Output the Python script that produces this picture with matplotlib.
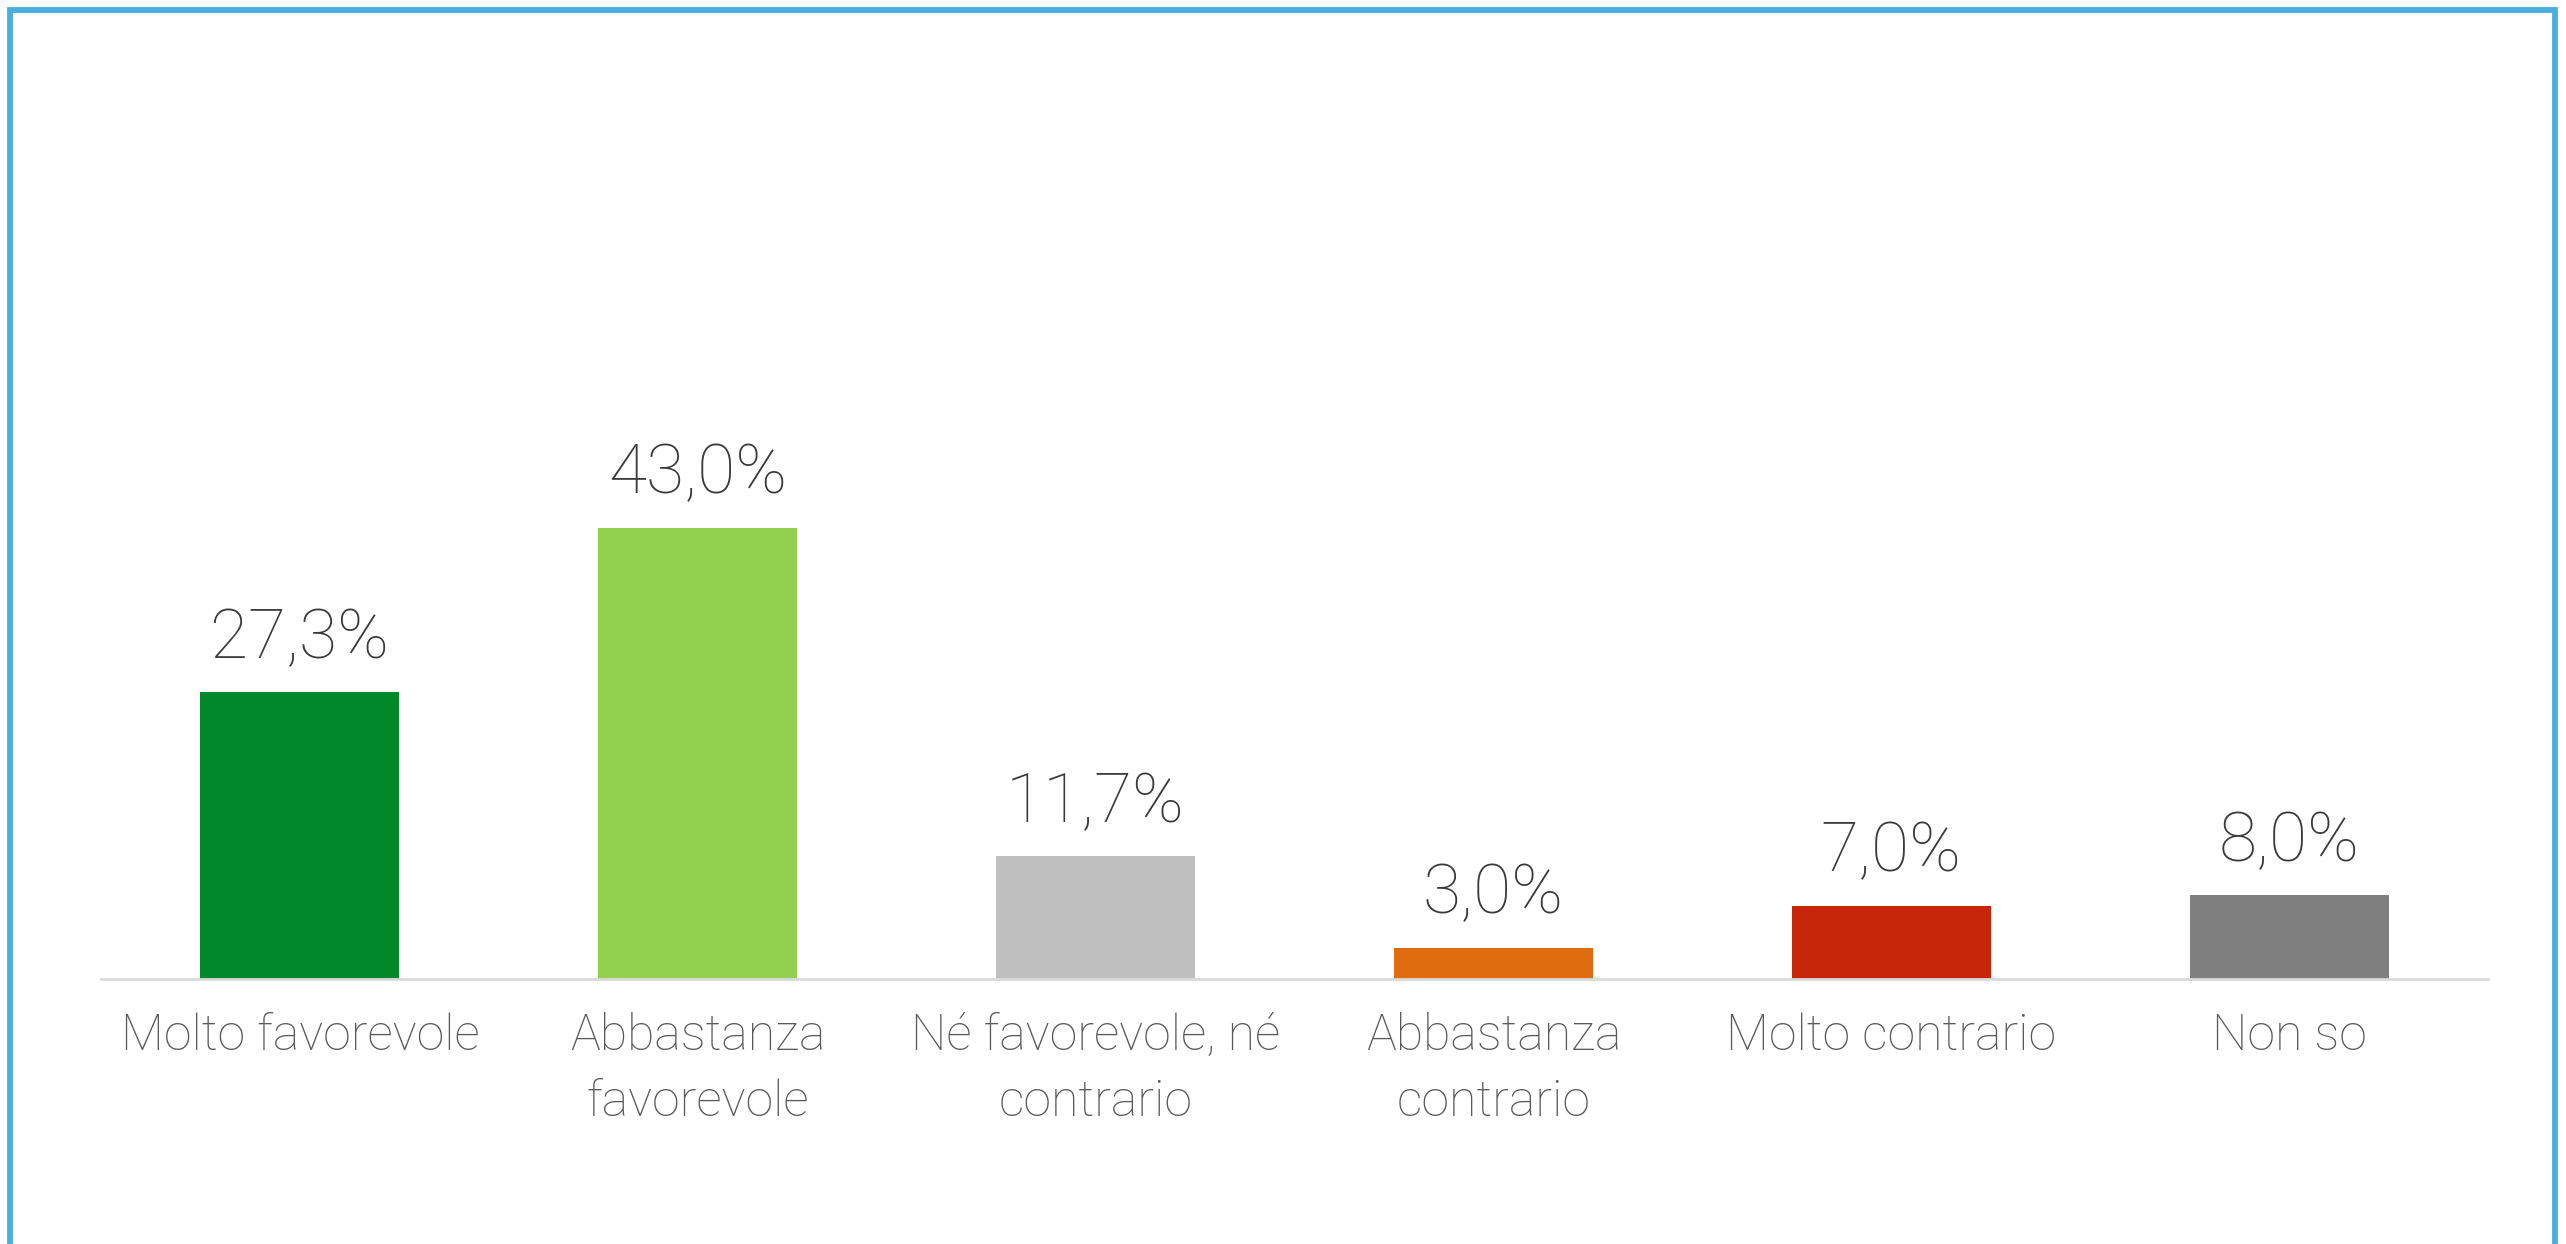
"""
Bar chart: opinion distribution (Italian survey).
"""

import matplotlib.pyplot as plt
from matplotlib.patches import Rectangle

categories = [
    "Molto favorevole",
    "Abbastanza\nfavorevole",
    "Né favorevole, né\ncontrario",
    "Abbastanza\ncontrario",
    "Molto contrario",
    "Non so",
]
values = [27.3, 43.0, 11.7, 3.0, 7.0, 8.0]
colors = ["#00882B", "#92D050", "#BFBFBF", "#E06C10", "#C8260A", "#7F7F7F"]

plt.rcParams["font.family"] = ["Roboto", "DejaVu Sans"]

W, H = 2566, 1244
fig = plt.figure(figsize=(W / 100, H / 100), dpi=100)
fig.patch.set_facecolor("white")

# blue frame (bottom edge falls outside the picture)
fig.add_artist(Rectangle((9.5 / W, -0.05), (2554.5 - 9.5) / W, 1.05 - 9.5 / H,
                         transform=fig.transFigure, fill=False,
                         edgecolor="#4BAEDD", linewidth=4.2))

ax = fig.add_axes([101 / W, (H - 979) / H, (2488 - 101) / W, 525 / H])
x = range(len(categories))
bars = ax.bar(x, values, width=0.5, color=colors, zorder=2)

ax.set_xlim(-0.5, len(categories) - 0.5)
ax.set_ylim(0, 50)

for b, v in zip(bars, values):
    ax.annotate(f"{v:.1f}%".replace(".", ","),
                (b.get_x() + b.get_width() / 2, v),
                xytext=(0, 20), textcoords="offset pixels",
                ha="center", va="bottom", fontsize=50, fontweight="light",
                color="#3A3A3A")

ax.set_xticks(list(x))
ax.set_xticklabels(categories, fontsize=36, fontweight="light", color="#595959",
                   linespacing=1.5)
ax.tick_params(axis="x", length=0, pad=24)
ax.set_yticks([])

for s in ["top", "right", "left"]:
    ax.spines[s].set_visible(False)
ax.spines["bottom"].set_color("#D9D9D9")
ax.spines["bottom"].set_linewidth(2)

fig.savefig("out.png", dpi=100)
plt.close(fig)
